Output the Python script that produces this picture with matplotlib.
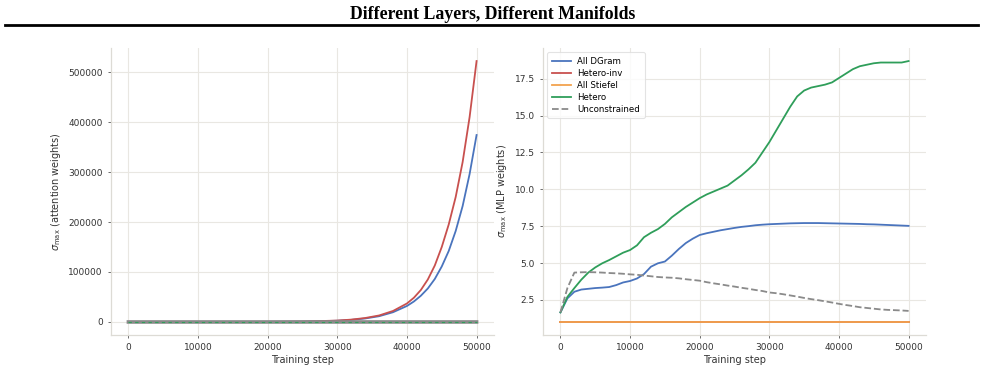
import numpy as np
import matplotlib.pyplot as plt
from matplotlib.lines import Line2D

# attention-weight sigma_max (left panel)
steps_att = [0, 5000, 10000, 15000, 20000, 25000, 30000, 32000, 34000, 36000,
             38000, 40000, 41000, 42000, 43000, 44000, 45000, 46000, 47000,
             48000, 49000, 50000]
att_dgram = [1, 3, 10, 40, 160, 650, 2500, 4200, 7000, 11500,
             19500, 32000, 41000, 52500, 67000, 86000, 111000, 142000, 182000,
             232000, 296000, 374000]
att_hetero_inv = [1, 4, 14, 50, 190, 720, 2800, 4700, 7900, 13000,
                  22000, 37000, 48500, 64000, 85000, 113000, 150000, 195000, 250000,
                  320000, 410000, 522000]
att_stiefel = [1.0] * len(steps_att)
att_hetero = [1.0] * len(steps_att)
att_unconstrained = [1.6, 3.0, 3.5, 3.8, 4.0, 4.1, 4.2, 4.2, 4.3, 4.3,
                     4.3, 4.4, 4.4, 4.4, 4.4, 4.4, 4.4, 4.4, 4.4,
                     4.4, 4.4, 4.4]

# MLP-weight sigma_max (right panel)
steps_mlp = list(range(0, 50001, 1000))
mlp_dgram = [1.65, 2.6, 3.05, 3.2, 3.25, 3.3, 3.33, 3.37, 3.5, 3.68,
             3.78, 3.95, 4.25, 4.75, 4.98, 5.1, 5.5, 5.95, 6.35, 6.65,
             6.9, 7.02, 7.12, 7.22, 7.3, 7.38, 7.45, 7.5, 7.56, 7.6,
             7.63, 7.65, 7.67, 7.69, 7.7, 7.71, 7.71, 7.71, 7.7, 7.69,
             7.68, 7.67, 7.66, 7.65, 7.63, 7.62, 7.6, 7.58, 7.56, 7.54,
             7.52]
mlp_hetero_inv = [1.0] * len(steps_mlp)
mlp_stiefel = [1.0] * len(steps_mlp)
mlp_hetero = [1.65, 2.7, 3.3, 3.87, 4.35, 4.7, 4.98, 5.2, 5.45, 5.7,
              5.88, 6.2, 6.75, 7.05, 7.3, 7.65, 8.1, 8.45, 8.8, 9.1,
              9.4, 9.65, 9.85, 10.05, 10.25, 10.6, 10.95, 11.35, 11.8, 12.5,
              13.2, 14.0, 14.8, 15.6, 16.3, 16.7, 16.9, 17.0, 17.1, 17.25,
              17.55, 17.85, 18.15, 18.35, 18.45, 18.55, 18.6, 18.6, 18.6, 18.6,
              18.7]
mlp_unconstrained = [1.65, 3.3, 4.35, 4.37, 4.38, 4.37, 4.35, 4.32, 4.3, 4.27,
                     4.23, 4.2, 4.15, 4.1, 4.05, 4.02, 4.0, 3.96, 3.9, 3.85,
                     3.8, 3.7, 3.62, 3.55, 3.47, 3.4, 3.32, 3.25, 3.17, 3.1,
                     3.0, 2.95, 2.88, 2.8, 2.72, 2.63, 2.55, 2.48, 2.4, 2.32,
                     2.23, 2.15, 2.08, 2.0, 1.95, 1.9, 1.85, 1.82, 1.8, 1.78,
                     1.75]

c_blue = '#4a74bd'
c_red = '#c8504e'
c_orange = '#f2a24e'
c_green = '#2f9e5a'
c_gray = '#8a8a8a'
grid_c = '#e9e7e2'
spine_c = '#dddbd5'
text_c = '#333333'

fig = plt.figure(figsize=(9.85, 3.81), dpi=100)

fig.text(0.5, 0.962, 'Different Layers, Different Manifolds', ha='center', va='center',
         fontsize=12.8, fontweight='bold', family='Liberation Serif')
fig.add_artist(Line2D([0.005, 0.993], [0.934, 0.934], color='black', lw=2.0,
                      transform=fig.transFigure))

ax1 = fig.add_axes([0.1127, 0.1207, 0.3888, 0.7533])
ax2 = fig.add_axes([0.5513, 0.1207, 0.3888, 0.7533])


def style(ax):
    ax.grid(True, color=grid_c, lw=0.8)
    ax.set_axisbelow(True)
    for s in ['top', 'right']:
        ax.spines[s].set_visible(False)
    for s in ['left', 'bottom']:
        ax.spines[s].set_color(spine_c)
        ax.spines[s].set_linewidth(0.9)
    ax.tick_params(labelsize=6.5, colors=text_c, length=2.5, width=0.6,
                   color='#555555')
    ax.set_xlabel('Training step', fontsize=7, color=text_c, labelpad=2)


lw = 1.3
ax1.plot(steps_att, att_dgram, color=c_blue, lw=lw)
ax1.plot(steps_att, att_hetero_inv, color=c_red, lw=lw)
ax1.plot(steps_att, att_stiefel, color=c_orange, lw=lw)
ax1.plot(steps_att, att_unconstrained, color=c_gray, lw=2.6)
ax1.plot(steps_att, att_hetero, color=c_green, lw=0.8, ls=(0, (3, 3)))
style(ax1)
ax1.set_xticks([0, 10000, 20000, 30000, 40000, 50000])
ax1.set_yticks([0, 100000, 200000, 300000, 400000, 500000])
ax1.set_ylabel(r'$\sigma_{\max}$ (attention weights)', fontsize=7, color=text_c)

ax2.plot(steps_mlp, mlp_dgram, color=c_blue, lw=lw, label='All DGram')
ax2.plot(steps_mlp, mlp_hetero_inv, color=c_red, lw=lw, label='Hetero-inv')
ax2.plot(steps_mlp, mlp_stiefel, color=c_orange, lw=lw, label='All Stiefel')
ax2.plot(steps_mlp, mlp_hetero, color=c_green, lw=lw, label='Hetero')
ax2.plot(steps_mlp, mlp_unconstrained, color=c_gray, lw=lw, ls='--',
         label='Unconstrained')
style(ax2)
ax2.set_xticks([0, 10000, 20000, 30000, 40000, 50000])
ax2.set_yticks([2.5, 5.0, 7.5, 10.0, 12.5, 15.0, 17.5])
ax2.set_ylabel(r'$\sigma_{\max}$ (MLP weights)', fontsize=7, color=text_c)
leg = ax2.legend(loc='upper left', fontsize=6.2, frameon=True, borderpad=0.5,
                 handlelength=2.2, labelspacing=0.35)
leg.get_frame().set_edgecolor('#dddddd')
leg.get_frame().set_linewidth(0.8)

fig.savefig('out.png', dpi=100)
